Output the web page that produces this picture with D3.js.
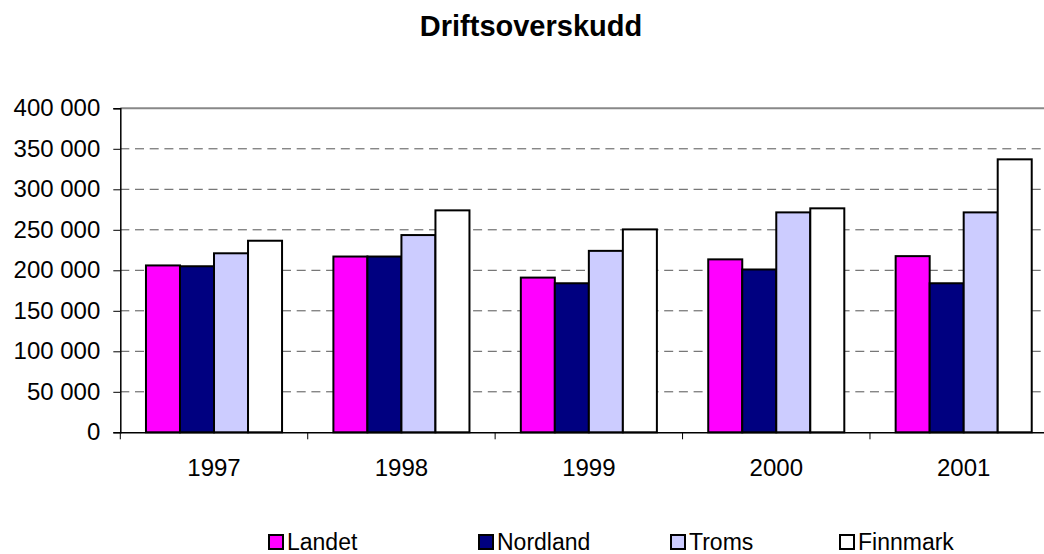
<!DOCTYPE html>
<html><head><meta charset="utf-8">
<script src="https://cdn.jsdelivr.net/npm/d3@7"></script>
<style>
html,body{margin:0;padding:0;background:#fff;overflow:hidden;}
text{font-family:Arial,"Liberation Sans",sans-serif;fill:#000;}
</style></head>
<body>
<svg id="chart" width="1044" height="554"></svg>
<script>
const years = ["1997","1998","1999","2000","2001"];
const seriesNames = ["Landet","Nordland","Troms","Finnmark"];
const landet   = [206000, 217000, 191000, 213500, 217500];
const nordland = [205000, 217000, 184000, 201000, 184000];
const troms    = [221000, 243500, 224000, 271500, 271500];
const finnmark = [236500, 274000, 250500, 276500, 337000];
const colors = ["#FF00FF","#000080","#CCCCFF","#FFFFFF"];
const yTicks = [0,50000,100000,150000,200000,250000,300000,350000,400000];
const title = "Driftsoverskudd";

(function(){
const seriesValues = [landet, nordland, troms, finnmark];
const svg = d3.select("#chart");

const pLeft = 120.3, pRight = 1057.4, pTop = 108.3, pBottom = 432.3;
const x0 = d3.scaleBand().domain(years).range([pLeft, pRight]).padding(0);
const bw = x0.bandwidth();
const gap = bw * 0.137;
const x1 = d3.scaleBand().domain(seriesNames).range([gap, bw - gap]).padding(0);
const y = d3.scaleLinear().domain([0, 400000]).range([pBottom, pTop]);

const fmt = v => d3.format(",")(v).replace(/,/g, " ");

// title
svg.append("text").attr("x", 531).attr("y", 36).attr("text-anchor","middle")
  .style("font-size","29px").style("font-weight","bold").text(title);

// gridlines
svg.append("g").selectAll("line").data(yTicks.filter(t => t > 0 && t < 400000)).join("line")
  .attr("x1", pLeft).attr("x2", pRight).attr("y1", d => y(d)).attr("y2", d => y(d))
  .attr("stroke", "#555").attr("stroke-width", 1).attr("stroke-dasharray", "9,5.7");
// top border
svg.append("line").attr("x1", pLeft).attr("x2", pRight).attr("y1", y(400000)).attr("y2", y(400000))
  .attr("stroke", "#888").attr("stroke-width", 2);

// bars
const groups = svg.append("g").selectAll("g").data(years).join("g")
  .attr("transform", d => `translate(${x0(d)},0)`);
groups.selectAll("rect").data((d, i) => seriesNames.map((s, j) => ({s, j, v: seriesValues[j][i]}))).join("rect")
  .attr("x", d => x1(d.s)).attr("width", x1.bandwidth())
  .attr("y", d => y(d.v)).attr("height", d => y(0) - y(d.v))
  .attr("fill", d => colors[d.j]).attr("stroke", "#000").attr("stroke-width", 2);

// y axis
const yAxis = d3.axisLeft(y).tickValues(yTicks).tickFormat(fmt).tickSize(7).tickPadding(13);
const ya = svg.append("g").attr("transform", `translate(${pLeft},0)`).call(yAxis);
ya.select(".domain").attr("stroke", "#000").attr("stroke-width", 1.5);
ya.selectAll(".tick line").attr("stroke", "#000");
ya.selectAll("text").style("font-size", "24px").attr("fill", "#000");

// x axis
const xa = svg.append("g").attr("transform", `translate(0,${pBottom})`)
  .call(d3.axisBottom(x0).tickSize(0).tickPadding(27));
xa.select(".domain").attr("stroke", "#000").attr("stroke-width", 1.5);
xa.selectAll("text").style("font-size", "24px").attr("fill", "#000");
// category boundary ticks
svg.append("g").selectAll("line").data(years.concat(["end"])).join("line")
  .attr("x1", (d, i) => pLeft + i * bw).attr("x2", (d, i) => pLeft + i * bw)
  .attr("y1", pBottom).attr("y2", pBottom + 7).attr("stroke", "#000").attr("stroke-width", 1);

// legend
const legendX = [269, 479, 671, 840];
const lg = svg.append("g").selectAll("g").data(seriesNames).join("g")
  .attr("transform", (d, i) => `translate(${legendX[i]},535)`);
lg.append("rect").attr("width", 14).attr("height", 14)
  .attr("fill", (d, i) => colors[i]).attr("stroke", "#000").attr("stroke-width", 2);
lg.append("text").attr("x", 18).attr("y", 15).style("font-size", "23px").text(d => d);
})();
</script>
</body></html>
